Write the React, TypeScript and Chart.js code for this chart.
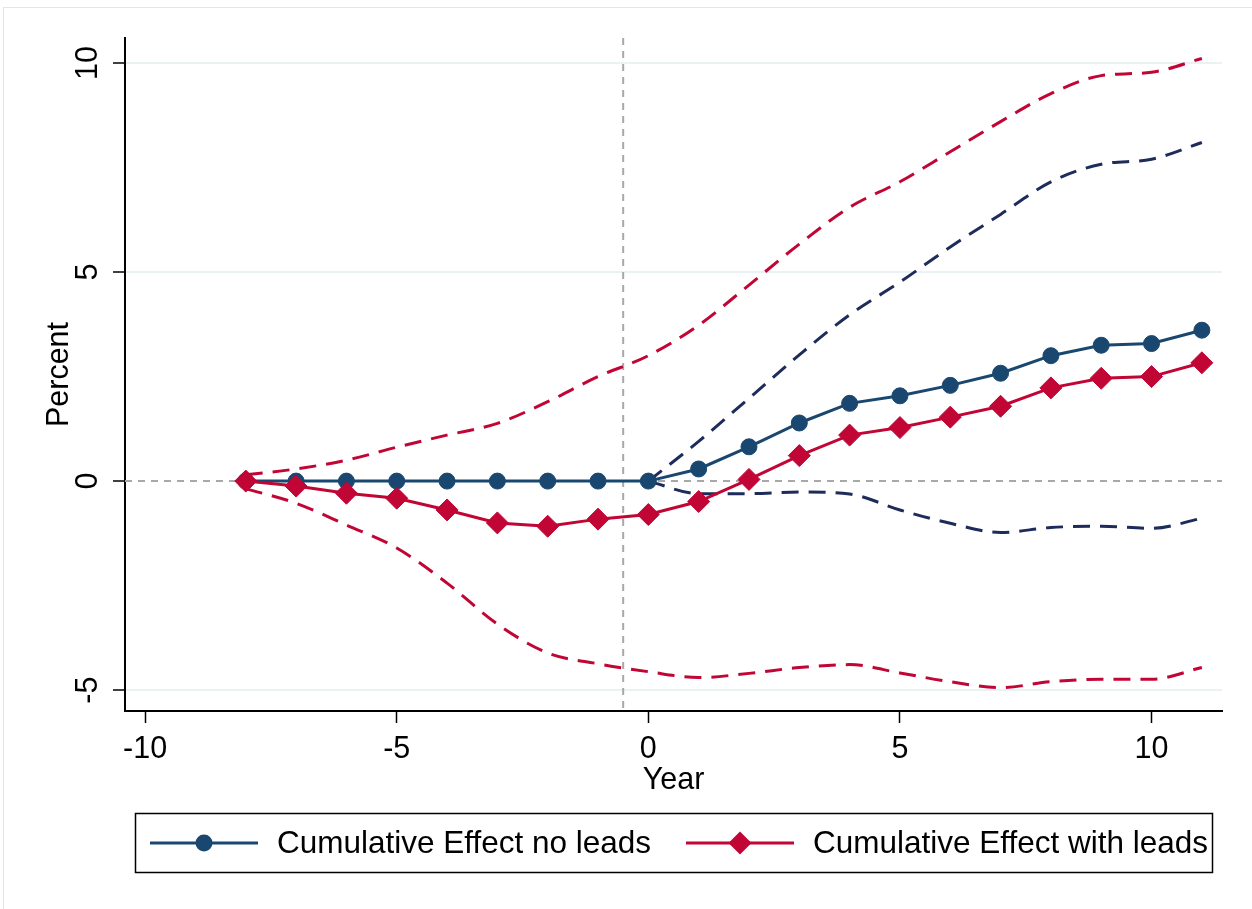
import React, { useEffect, useRef } from "react";
import { Chart, registerables } from "chart.js";

Chart.register(...registerables);

// ---- data ----
const years = [-8, -7, -6, -5, -4, -3, -2, -1, 0, 1, 2, 3, 4, 5, 6, 7, 8, 9, 10, 11];
const noLeads = [0, 0, 0, 0, 0, 0, 0, 0, 0, 0.29, 0.82, 1.39, 1.86, 2.04, 2.29, 2.58, 3.0, 3.25, 3.29, 3.61];
const withLeads = [0, -0.12, -0.29, -0.41, -0.69, -1.0, -1.08, -0.91, -0.8, -0.49, 0.04, 0.61, 1.1, 1.28, 1.53, 1.79, 2.23, 2.46, 2.5, 2.83];
const ciYears = [0, 1, 2, 3, 4, 5, 6, 7, 8, 9, 10, 11];
const noLeadsUpper = [0, 0.95, 1.98, 3.02, 3.98, 4.76, 5.6, 6.38, 7.16, 7.58, 7.7, 8.1];
const noLeadsLower = [0, -0.3, -0.3, -0.26, -0.31, -0.69, -1.01, -1.23, -1.11, -1.08, -1.13, -0.89];
const withLeadsUpper = [0.15, 0.29, 0.5, 0.81, 1.1, 1.38, 1.9, 2.5, 3.0, 3.73, 4.69, 5.67, 6.55, 7.16, 7.88, 8.6, 9.27, 9.7, 9.78, 10.11];
const withLeadsLower = [-0.18, -0.53, -1.05, -1.6, -2.44, -3.42, -4.11, -4.37, -4.56, -4.7, -4.6, -4.46, -4.39, -4.59, -4.8, -4.94, -4.8, -4.74, -4.74, -4.46];
const xTickLabels = ["-10", "-5", "0", "5", "10"];
const yTickLabels = ["-5", "0", "5", "10"];
const legendLabels = ["Cumulative Effect no leads", "Cumulative Effect with leads"];
const eventLineX = -0.5;

const BLUE = "#1a476f";
const NAVY = "#1d2c5a";
const RED = "#c10534";
const GRID = "#eaf2f3";
const FONT = "'Liberation Sans', Helvetica, Arial, sans-serif";

const pts = (xs: number[], ys: number[]) => xs.map((x, i) => ({ x, y: ys[i] }));

const refLines = {
  id: "refLines",
  beforeDatasetsDraw(chart: any) {
    const { ctx, chartArea, scales } = chart;
    ctx.save();
    ctx.strokeStyle = "#a8a8a8";
    ctx.lineWidth = 2;
    ctx.setLineDash([7, 6]);
    const y0 = scales.y.getPixelForValue(0);
    ctx.beginPath();
    ctx.moveTo(chartArea.left, y0);
    ctx.lineTo(chartArea.right, y0);
    ctx.stroke();
    const xv = scales.x.getPixelForValue(eventLineX);
    ctx.beginPath();
    ctx.moveTo(xv, chartArea.top);
    ctx.lineTo(xv, chartArea.bottom);
    ctx.stroke();
    ctx.restore();
  },
};

const boxLegend = {
  id: "boxLegend",
  afterDraw(chart: any) {
    const { ctx } = chart;
    ctx.save();
    ctx.strokeStyle = "#000";
    ctx.lineWidth = 1.5;
    ctx.strokeRect(135.5, 813.5, 1077, 59);
    const yc = 843;
    const items = [
      { x0: 150, color: BLUE, style: "circle", r: 8 },
      { x0: 686, color: RED, style: "rectRot", r: 11 },
    ];
    ctx.font = `31.5px ${FONT}`;
    ctx.textBaseline = "middle";
    ctx.textAlign = "left";
    items.forEach((it, i) => {
      ctx.strokeStyle = it.color;
      ctx.lineWidth = 3;
      ctx.beginPath();
      ctx.moveTo(it.x0, yc);
      ctx.lineTo(it.x0 + 108, yc);
      ctx.stroke();
      ctx.fillStyle = it.color;
      ctx.beginPath();
      if (it.style === "circle") {
        ctx.arc(it.x0 + 54, yc, it.r + 0.5, 0, Math.PI * 2);
      } else {
        const cx = it.x0 + 54;
        const r = it.r + 0.5;
        ctx.moveTo(cx, yc - r);
        ctx.lineTo(cx + r, yc);
        ctx.lineTo(cx, yc + r);
        ctx.lineTo(cx - r, yc);
        ctx.closePath();
      }
      ctx.fill();
      ctx.fillStyle = "#000";
      ctx.fillText(legendLabels[i], it.x0 + 127, yc + 1);
    });
    ctx.restore();
  },
};

export default function App() {
  const ref = useRef<HTMLCanvasElement | null>(null);

  useEffect(() => {
    if (!ref.current) return;
    const chart = new Chart(ref.current, {
      type: "line",
      data: {
        datasets: [
          {
            label: legendLabels[0],
            data: pts(years, noLeads),
            borderColor: BLUE,
            backgroundColor: BLUE,
            borderWidth: 3,
            pointStyle: "circle",
            pointRadius: 8,
            pointBorderWidth: 1,
            pointBorderColor: BLUE,
            pointBackgroundColor: BLUE,
            order: 1,
          },
          {
            label: legendLabels[1],
            data: pts(years, withLeads),
            borderColor: RED,
            backgroundColor: RED,
            borderWidth: 3,
            pointStyle: "rectRot",
            pointRadius: 11,
            pointBorderWidth: 1,
            pointBorderColor: RED,
            pointBackgroundColor: RED,
            order: 0,
          },
          {
            label: "no leads upper",
            data: pts(ciYears, noLeadsUpper),
            borderColor: NAVY,
            borderWidth: 3,
            borderDash: [17, 10],
            pointRadius: 0,
            cubicInterpolationMode: "monotone",
            order: 3,
          },
          {
            label: "no leads lower",
            data: pts(ciYears, noLeadsLower),
            borderColor: NAVY,
            borderWidth: 3,
            borderDash: [17, 10],
            pointRadius: 0,
            cubicInterpolationMode: "monotone",
            order: 3,
          },
          {
            label: "with leads upper",
            data: pts(years, withLeadsUpper),
            borderColor: RED,
            borderWidth: 3,
            borderDash: [17, 10],
            pointRadius: 0,
            cubicInterpolationMode: "monotone",
            order: 2,
          },
          {
            label: "with leads lower",
            data: pts(years, withLeadsLower),
            borderColor: RED,
            borderWidth: 3,
            borderDash: [17, 10],
            pointRadius: 0,
            cubicInterpolationMode: "monotone",
            order: 2,
          },
        ],
      },
      options: {
        animation: false,
        responsive: false,
        maintainAspectRatio: false,
        layout: { padding: { left: 0, top: 38, right: 30, bottom: 98 } },
        plugins: { legend: { display: false }, tooltip: { enabled: false } },
        scales: {
          x: {
            type: "linear",
            min: -10.4,
            max: 11.4,
            afterFit: (s: any) => {
              s.height = 100;
            },
            afterBuildTicks: (s: any) => {
              s.ticks = xTickLabels.map((t) => ({ value: Number(t) }));
            },
            ticks: {
              color: "#000",
              font: { family: FONT, size: 30.5 },
              padding: 8,
              maxRotation: 0,
              minRotation: 0,
              callback: (v: any) => String(v),
            },
            grid: {
              drawOnChartArea: false,
              drawTicks: true,
              tickLength: 12,
              tickColor: "#000",
              tickWidth: 1.5,
            },
            border: { display: true, color: "#000", width: 2 },
            title: {
              display: true,
              text: "Year",
              color: "#000",
              font: { family: FONT, size: 30.5 },
              padding: { top: 0, bottom: 12 },
            },
          },
          y: {
            type: "linear",
            min: -5.5,
            max: 10.6,
            afterFit: (s: any) => {
              s.width = 125;
            },
            afterBuildTicks: (s: any) => {
              s.ticks = yTickLabels.map((t) => ({ value: Number(t) }));
            },
            ticks: {
              color: "#000",
              font: { family: FONT, size: 30.5 },
              padding: 7,
              minRotation: 90,
              maxRotation: 90,
              crossAlign: "center",
              callback: (v: any) => String(v),
            },
            grid: {
              color: (c: any) => (c.tick && c.tick.value === 0 ? "rgba(0,0,0,0)" : GRID),
              lineWidth: 2,
              drawTicks: true,
              tickLength: 12,
              tickColor: "#000",
              tickWidth: 1.5,
            },
            border: { display: true, color: "#000", width: 2 },
            title: {
              display: true,
              text: "Percent",
              color: "#000",
              font: { family: FONT, size: 30.5 },
              padding: { top: 41, bottom: 0 },
            },
          },
        },
      },
      plugins: [refLines, boxLegend],
    } as any);
    return () => chart.destroy();
  }, []);

  return (
    <div style={{ position: "absolute", left: 0, top: 0, width: 1252, height: 909, background: "#fff" }}>
      <div
        style={{
          position: "absolute",
          left: 3,
          top: 7,
          right: 0,
          bottom: 0,
          borderLeft: "1px solid #e4e4e4",
          borderTop: "1px solid #e4e4e4",
        }}
      />
      <canvas ref={ref} width={1252} height={909} style={{ position: "absolute", left: 0, top: 0, display: "block" }} />
    </div>
  );
}
